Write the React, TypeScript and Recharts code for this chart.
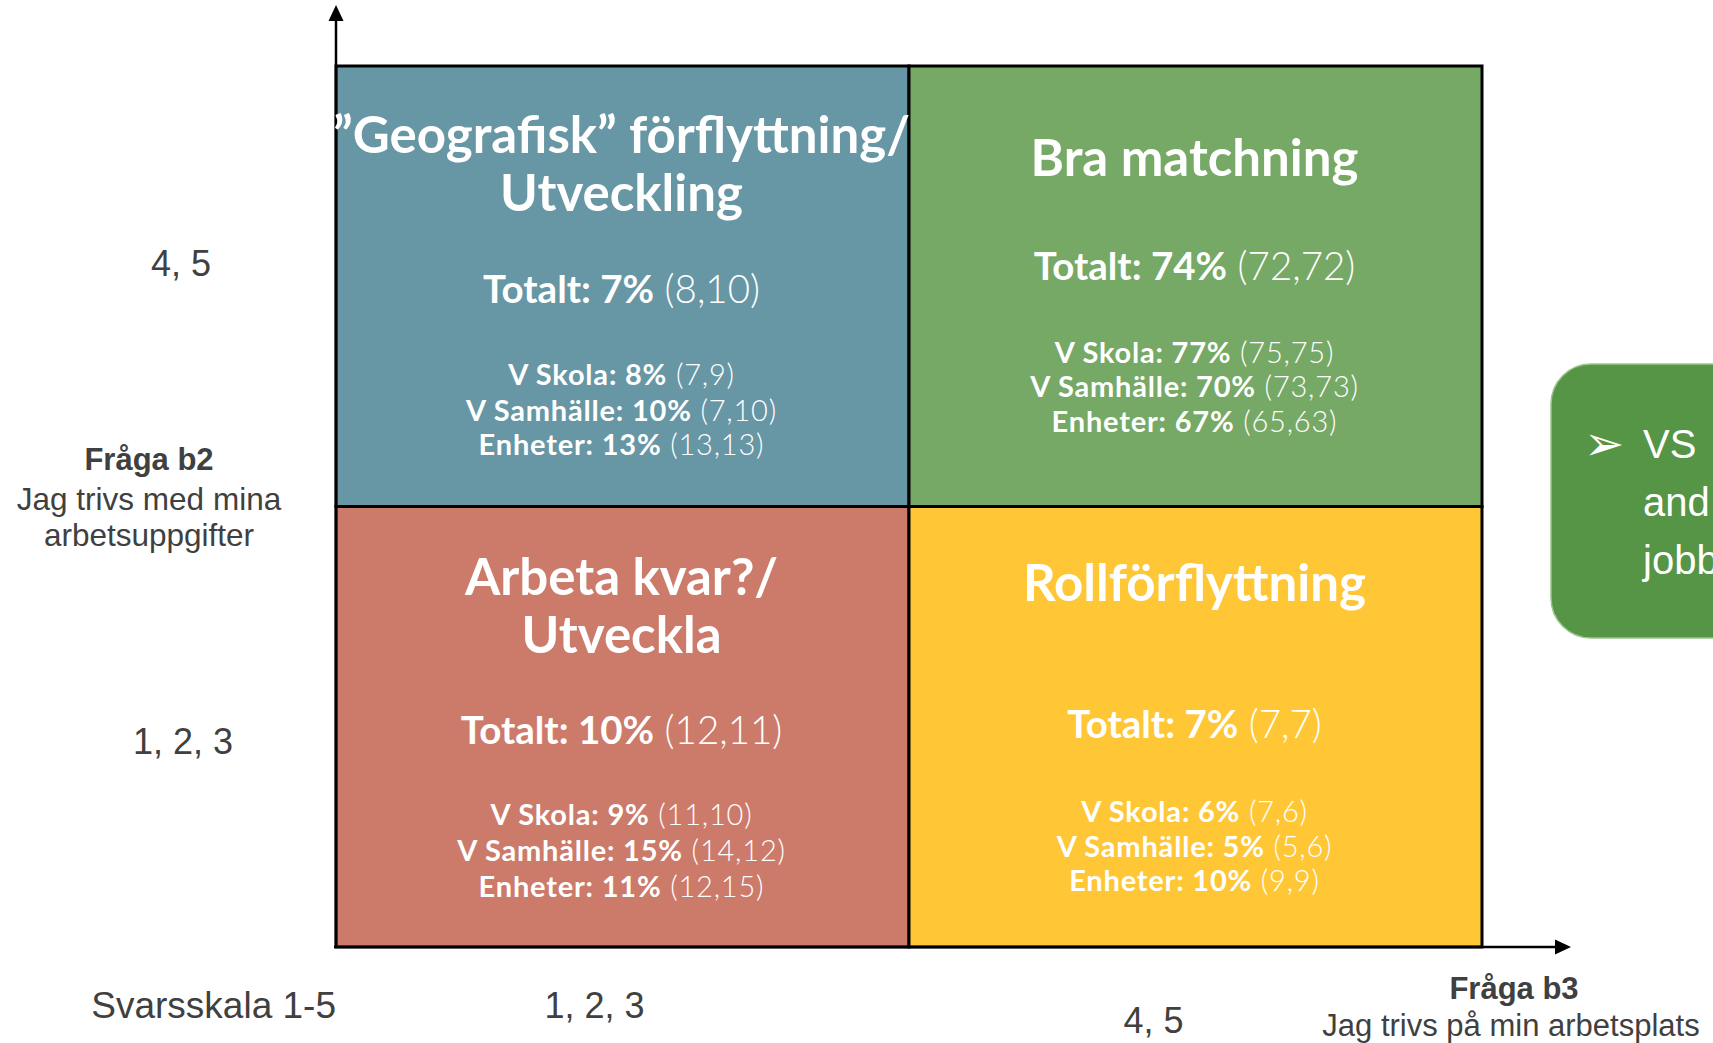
import React from 'react';
import { ScatterChart, Scatter, XAxis, YAxis, ReferenceArea, ReferenceLine } from 'recharts';

// ---------- data ----------
const quadrantTitles: string[][] = [
  ['”Geografisk” förflyttning/', 'Utveckling'],
  ['Bra matchning'],
  ['Arbeta kvar?/', 'Utveckla'],
  ['Rollförflyttning'],
];
// band on each axis: 0 = svar 1, 2, 3 ; 1 = svar 4, 5
const b3Band = [0, 1, 0, 1];
const b2Band = [1, 1, 0, 0];
const totalPct = [7, 74, 10, 7];
const totalPrev = ['8,10', '72,72', '12,11', '7,7'];
const groupNames = ['V Skola', 'V Samhälle', 'Enheter'];
const vSkolaPct = [8, 77, 9, 6];
const vSkolaPrev = ['7,9', '75,75', '11,10', '7,6'];
const vSamhallePct = [10, 70, 15, 5];
const vSamhallePrev = ['7,10', '73,73', '14,12', '5,6'];
const enheterPct = [13, 67, 11, 10];
const enheterPrev = ['13,13', '65,63', '12,15', '9,9'];
const b3TickLabels = ['1, 2, 3', '4, 5'];
const b2TickLabels = ['1, 2, 3', '4, 5'];
const bandCenters = [0.5, 1.5];
const b2Title = 'Fråga b2';
const b2Text = ['Jag trivs med mina', 'arbetsuppgifter'];
const b3Title = 'Fråga b3';
const b3Text = 'Jag trivs på min arbetsplats';
const scaleText = 'Svarsskala 1-5';
const noteLines = ['VS', 'and', 'jobb'];

// ---------- styles ----------
const quadrantColors = ['#6796A5', '#76A866', '#CC7A6A', '#FFC736'];
const QF = 'Lato, "Noto Sans", sans-serif';
const AF = '"Liberation Sans", Arial, sans-serif';
const GRAY = '#404040';
const layout = [
  { title: [-133, -75], total: 17, groups: [99, 135, 169] },
  { title: [-110], total: -6, groups: [77, 111, 146] },
  { title: [-132, -74], total: 17, groups: [98, 134, 170] },
  { title: [-126], total: 11, groups: [95, 130, 164] },
];

const groupPct = [vSkolaPct, vSamhallePct, enheterPct];
const groupPrev = [vSkolaPrev, vSamhallePrev, enheterPrev];

const points = quadrantTitles.map((_, i) => ({
  x: b3Band[i] + 0.5,
  y: b2Band[i] + 0.5,
  i,
}));

const QuadrantText = (props: any) => {
  const { cx, cy, payload } = props;
  const i = payload.i;
  const L = layout[i];
  return (
    <g>
      {quadrantTitles[i].map((t, k) => (
        <text key={k} x={cx - 1} y={cy + L.title[k]} textAnchor="middle" fontFamily={QF} fontWeight={700} fontSize={51} fill="#fff">
          {t}
        </text>
      ))}
      <text x={cx - 1} y={cy + L.total} textAnchor="middle" fontFamily={QF} fontSize={38.5} fill="#fff">
        <tspan fontWeight={700}>{`Totalt: ${totalPct[i]}%`}</tspan>
        <tspan fontWeight={300}>{` (${totalPrev[i]})`}</tspan>
      </text>
      {groupNames.map((g, k) => (
        <text key={g} x={cx - 1} y={cy + L.groups[k]} textAnchor="middle" fontFamily={QF} fontSize={29} letterSpacing={0.8} fill="#fff">
          <tspan fontWeight={700}>{`${g}: ${groupPct[k][i]}%`}</tspan>
          <tspan fontWeight={300}>{` (${groupPrev[k][i]})`}</tspan>
        </text>
      ))}
    </g>
  );
};

const XTick = (p: any) => {
  const idx = p.payload.value < 1 ? 0 : 1;
  const dx = idx === 0 ? -28 : -42;
  const dy = idx === 0 ? 71 : 86;
  return (
    <text x={p.x + dx} y={p.y + dy} textAnchor="middle" fontFamily={AF} fontSize={36} fill={GRAY}>
      {b3TickLabels[idx]}
    </text>
  );
};

const YTick = (p: any) => {
  const idx = p.payload.value < 1 ? 0 : 1;
  const dx = idx === 0 ? -153 : -155;
  const dy = idx === 0 ? 27 : -10;
  return (
    <text x={p.x + dx} y={p.y + dy} textAnchor="middle" fontFamily={AF} fontSize={36} fill={GRAY}>
      {b2TickLabels[idx]}
    </text>
  );
};

const XLabel = (p: any) => {
  const vb = p.viewBox;
  const rx = vb.x + vb.width + 32;
  return (
    <g>
      <text x={vb.x} y={vb.y + 71} textAnchor="end" fontFamily={AF} fontSize={37} fill={GRAY}>{scaleText}</text>
      <text x={rx} y={vb.y + 52} textAnchor="middle" fontFamily={AF} fontWeight={700} fontSize={31} fill={GRAY}>{b3Title}</text>
      <text x={rx - 3} y={vb.y + 89} textAnchor="middle" fontFamily={AF} fontSize={31} fill={GRAY}>{b3Text}</text>
    </g>
  );
};

const YLabel = (p: any) => {
  const vb = p.viewBox;
  const cx = vb.x + 149;
  const mid = vb.y + vb.height / 2;
  return (
    <g>
      <text x={cx} y={mid - 37} textAnchor="middle" fontFamily={AF} fontWeight={700} fontSize={31} fill={GRAY}>{b2Title}</text>
      {b2Text.map((t, k) => (
        <text key={k} x={cx} y={mid + 3 + k * 36} textAnchor="middle" fontFamily={AF} fontSize={31.5} fill={GRAY}>{t}</text>
      ))}
    </g>
  );
};

const HArrow = (p: any) => {
  const xa = Math.min(p.x1, p.x2) - 2;
  const xb = Math.max(p.x1, p.x2) + 89;
  const y = p.y1;
  return (
    <g>
      <line x1={xa} y1={y} x2={xb - 10} y2={y} stroke="#000" strokeWidth={2.5} />
      <polygon points={`${xb},${y} ${xb - 16},${y - 7.5} ${xb - 16},${y + 7.5}`} fill="#000" />
    </g>
  );
};

const VArrow = (p: any) => {
  const x = p.x1;
  const yb = Math.max(p.y1, p.y2) + 1;
  const yt = Math.min(p.y1, p.y2) - 61;
  return (
    <g>
      <line x1={x} y1={yb} x2={x} y2={yt + 10} stroke="#000" strokeWidth={2.5} />
      <polygon points={`${x},${yt} ${x - 7.5},${yt + 16} ${x + 7.5},${yt + 16}`} fill="#000" />
    </g>
  );
};

export default function App() {
  return (
    <div style={{ position: 'absolute', left: 0, top: 0, width: 1713, height: 1043, overflow: 'hidden', background: '#fff' }}>
      <ScatterChart width={1713} height={1043} margin={{ top: 66, right: 231, bottom: 0, left: 0 }}>
        <XAxis
          type="number"
          dataKey="x"
          domain={[0, 2]}
          ticks={bandCenters}
          axisLine={false}
          tickLine={false}
          tickSize={0}
          tickMargin={0}
          height={96}
          tick={(p: any) => <XTick {...p} />}
          label={XLabel}
        />
        <YAxis
          type="number"
          dataKey="y"
          domain={[0, 2]}
          ticks={bandCenters}
          axisLine={false}
          tickLine={false}
          tickSize={0}
          tickMargin={0}
          width={336}
          tick={(p: any) => <YTick {...p} />}
          label={YLabel}
        />
        {quadrantTitles.map((_, i) => (
          <ReferenceArea
            key={i}
            x1={b3Band[i]}
            x2={b3Band[i] + 1}
            y1={b2Band[i]}
            y2={b2Band[i] + 1}
            fill={quadrantColors[i]}
            fillOpacity={1}
            stroke="#000"
            strokeWidth={3}
          />
        ))}
        <Scatter data={points} isAnimationActive={false} shape={QuadrantText} />
        <ReferenceLine y={0} stroke="#000" ifOverflow="visible" shape={HArrow} />
        <ReferenceLine x={0} stroke="#000" ifOverflow="visible" shape={VArrow} />
      </ScatterChart>
      <svg width={1713} height={1043} style={{ position: 'absolute', left: 0, top: 0, pointerEvents: 'none' }}>
        <rect x={1551} y={364} width={240} height={274} rx={40} fill="#559545" stroke="#9CC58E" strokeWidth={1.5} />
        <text x={1584} y={460} fontSize={48} fill="#fff" fontFamily='"DejaVu Sans", sans-serif'>➢</text>
        {noteLines.map((t, k) => (
          <text key={k} x={1643} y={458 + k * 58} fontSize={40} fill="#fff" fontFamily={AF}>{t}</text>
        ))}
      </svg>
    </div>
  );
}
